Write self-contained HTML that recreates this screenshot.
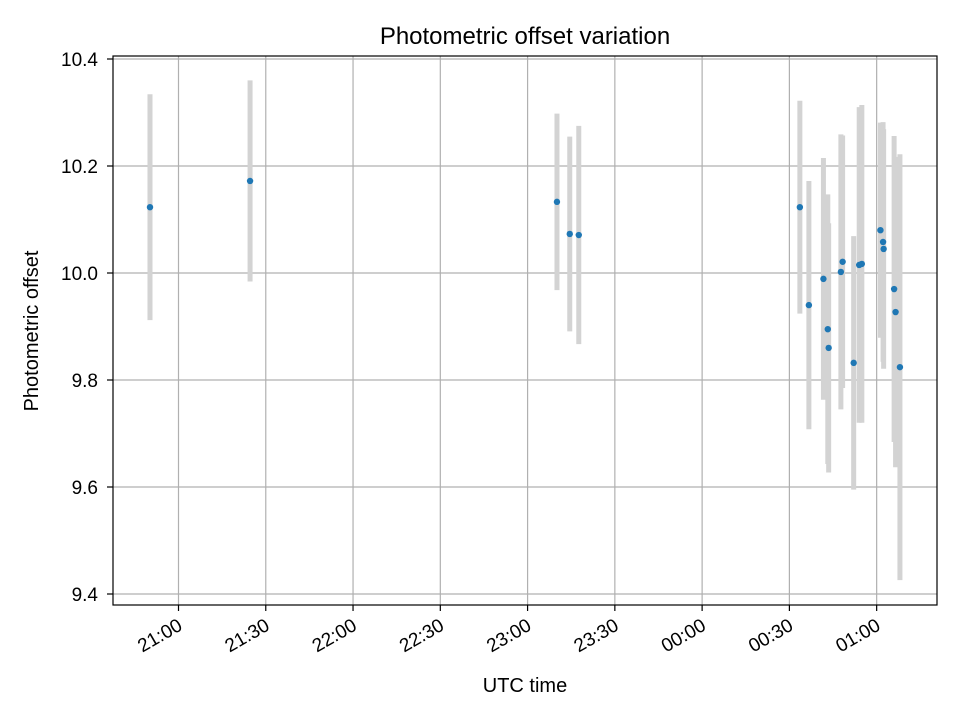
<!DOCTYPE html>
<html><head><meta charset="utf-8"><style>body{margin:0;background:#fff}svg{display:block;font-family:"Liberation Sans","DejaVu Sans",sans-serif}</style></head>
<body>
<svg id="chart" width="960" height="720" xmlns="http://www.w3.org/2000/svg">
<rect width="960" height="720" fill="#fff"/>
<text x="525" y="44" font-size="24" text-anchor="middle">Photometric offset variation</text>
<text x="525" y="692" font-size="20" text-anchor="middle">UTC time</text>
<text transform="translate(38,331) rotate(-90)" font-size="20" text-anchor="middle">Photometric offset</text>
<g id="grid"></g><g id="bars"></g><g id="pts"></g><g id="axes"></g>
</svg>
<script>
// minutes relative to 21:00 UTC
const times=[-9.8,24.6,130.1,134.5,137.6,213.6,216.7,221.7,223.2,223.5,227.7,228.3,232.1,234.0,234.9,241.3,242.2,242.4,246.0,246.5,248.0];
const values=[10.123,10.172,10.133,10.073,10.071,10.123,9.940,9.989,9.895,9.860,10.002,10.021,9.832,10.015,10.017,10.080,10.058,10.045,9.970,9.927,9.824];
const errors=[0.211,0.188,0.165,0.182,0.204,0.199,0.232,0.226,0.252,0.233,0.257,0.236,0.237,0.295,0.297,0.201,0.224,0.224,0.286,0.290,0.398];
const xTickMinutes=[0,30,60,90,120,150,180,210,240];
const xTickLabels=["21:00","21:30","22:00","22:30","23:00","23:30","00:00","00:30","01:00"];
const yTicks=[9.4,9.6,9.8,10.0,10.2,10.4];
const yTickLabels=["9.4","9.6","9.8","10.0","10.2","10.4"];

const L=113,R=937,T=56,B=605;
const xs=t=>178.5+(t)*87.27/30;
const ys=v=>59+(10.4-v)*535;
const NS="http://www.w3.org/2000/svg";
function mk(tag,attrs,parent){const e=document.createElementNS(NS,tag);for(const k in attrs)e.setAttribute(k,attrs[k]);parent.appendChild(e);return e;}
const grid=document.getElementById('grid'),bars=document.getElementById('bars'),pts=document.getElementById('pts'),axes=document.getElementById('axes');
xTickMinutes.forEach((m,i)=>{const x=xs(m);
 const g=mk('line',{x1:x,x2:x,y1:T,y2:B,stroke:'#b0b0b0','stroke-width':1.2},grid);
 
 
 const tk=mk('line',{x1:x,x2:x,y1:B,y2:B+6,stroke:'#000','stroke-width':1.2},axes);
 
 
 const tx=mk('text',{transform:`translate(${x+5},${B+24}) rotate(-30)`,'font-size':19,'text-anchor':'end'},axes);
 tx.textContent=xTickLabels[i];
 
 
});
yTicks.forEach((v,i)=>{const y=ys(v);
 const g=mk('line',{x1:L,x2:R,y1:y,y2:y,stroke:'#b0b0b0','stroke-width':1.2},grid);
 
 
 const tk=mk('line',{x1:L-6,x2:L,y1:y,y2:y,stroke:'#000','stroke-width':1.2},axes);
 
 
 const tx=mk('text',{x:L-15,y:y+7,'font-size':19,'text-anchor':'end'},axes);
 tx.textContent=yTickLabels[i];
 
 
});
const fr=mk('rect',{x:L,y:T,width:R-L,height:B-T,fill:'none',stroke:'#000','stroke-width':1.2},axes);


times.forEach((t,i)=>{const x=xs(t);
 const b=mk('line',{x1:x,x2:x,y1:ys(values[i]+errors[i]),y2:ys(values[i]-errors[i]),stroke:'#d3d3d3','stroke-width':5},bars);
 
 
 const c=mk('circle',{cx:x,cy:ys(values[i]),r:3.2,fill:'#1f77b4'},pts);
 
 
});
</script>
</body></html>
